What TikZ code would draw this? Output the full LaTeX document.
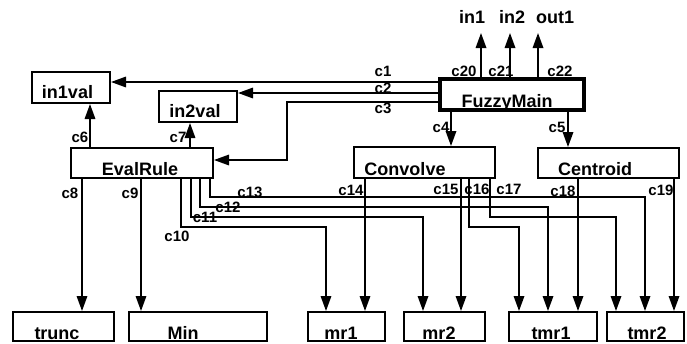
\documentclass[tikz,border=0pt]{standalone}
\usepackage{fontspec}
\setmainfont{Liberation Sans}
\usetikzlibrary{arrows.meta}
\begin{document}
\begin{tikzpicture}[x=1pt,y=-1pt,
  box/.style={draw, line width=2pt, inner sep=0pt, fill=white},
  mainbox/.style={box, line width=3.8pt},
  boxname/.style={anchor=base, inner sep=0pt, font=\fontsize{18}{20}\selectfont\bfseries},
  lab/.style={inner sep=0pt, font=\fontsize{15}{16}\selectfont\bfseries},
  port/.style={anchor=base, inner sep=0pt, font=\fontsize{18}{20}\selectfont\bfseries},
  conn/.style={line width=1.7pt, -{Triangle[length=15pt,width=10.5pt]}}]
\useasboundingbox (0,0) rectangle (687,343);

% boxes
\node[box, minimum width=78pt, minimum height=31pt] (in1val) at (71,87.5) {};
\node[box, minimum width=78pt, minimum height=31pt] (in2val) at (198,106.5) {};
\node[box, minimum width=142pt, minimum height=30pt] (eval) at (142,163) {};
\node[mainbox, minimum width=144pt, minimum height=31pt] (fm) at (512,94.5) {};
\node[box, minimum width=141pt, minimum height=31pt] (conv) at (424.5,162.5) {};
\node[box, minimum width=141pt, minimum height=30pt] (cent) at (608.5,163) {};
\node[box, minimum width=101pt, minimum height=29pt] (trunc) at (63.5,326.5) {};
\node[box, minimum width=138pt, minimum height=29pt] (min) at (198,326.5) {};
\node[box, minimum width=77pt, minimum height=29pt] (mr1) at (346.5,326.5) {};
\node[box, minimum width=81pt, minimum height=29pt] (mr2) at (444.5,326.5) {};
\node[box, minimum width=88pt, minimum height=29pt] (tmr1) at (553,326.5) {};
\node[box, minimum width=77pt, minimum height=29pt] (tmr2) at (645.5,326.5) {};

% box names
\node[boxname] (in1val-t) at (67.5,98) {in1val};
\node[boxname] (in2val-t) at (195,117) {in2val};
\node[boxname] (eval-t) at (140,175) {EvalRule};
\node[boxname] (fm-t) at (507,107) {FuzzyMain};
\node[boxname] (conv-t) at (405,175) {Convolve};
\node[boxname] (cent-t) at (595,175) {Centroid};
\node[boxname] (trunc-t) at (57,339) {trunc};
\node[boxname] (min-t) at (183,339) {Min};
\node[boxname] (mr1-t) at (341,339) {mr1};
\node[boxname] (mr2-t) at (439,339) {mr2};
\node[boxname] (tmr1-t) at (551,339) {tmr1};
\node[boxname] (tmr2-t) at (647,339) {tmr2};

% ports
\coordinate (p1) at (481,33);
\coordinate (p2) at (510,33);
\coordinate (p3) at (538,33);
\node[port] (in1) at (472,23) {in1};
\node[port] (in2) at (512,23) {in2};
\node[port] (out1) at (555,23) {out1};

% connectors
\draw[conn] (fm.west |- 0,82) -- (in1val.east |- 0,82);
\draw[conn] (fm.west |- 0,93) -- (in2val.east |- 0,93);
\draw[conn] (fm.west |- 0,102) -- (287,102) -- (287,160) -- (eval.east |- 0,160);
\draw[conn] (fm.south -| 451,0) -- (conv.north -| 451,0);
\draw[conn] (fm.south -| 568,0) -- (cent.north -| 568,0);
\draw[conn] (eval.north -| 90,0) -- (in1val.south -| 90,0);
\draw[conn] (eval.north -| 190,0) -- (in2val.south -| 190,0);
\draw[conn] (eval.south -| 82,0) -- (trunc.north -| 82,0);
\draw[conn] (eval.south -| 141,0) -- (min.north -| 141,0);
\draw[conn] (eval.south -| 181,0) -- (181,227) -- (326,227) -- (mr1.north -| 326,0);
\draw[conn] (eval.south -| 191,0) -- (191,217) -- (423,217) -- (mr2.north -| 423,0);
\draw[conn] (eval.south -| 200,0) -- (200,207) -- (548,207) -- (tmr1.north -| 548,0);
\draw[conn] (eval.south -| 210,0) -- (210,197) -- (645,197) -- (tmr2.north -| 645,0);
\draw[conn] (conv.south -| 365,0) -- (mr1.north -| 365,0);
\draw[conn] (conv.south -| 461,0) -- (mr2.north -| 461,0);
\draw[conn] (conv.south -| 469,0) -- (469,227) -- (519,227) -- (tmr1.north -| 519,0);
\draw[conn] (conv.south -| 490,0) -- (490,217) -- (616,217) -- (tmr2.north -| 616,0);
\draw[conn] (cent.south -| 578,0) -- (tmr1.north -| 578,0);
\draw[conn] (cent.south -| 674,0) -- (tmr2.north -| 674,0);
\draw[conn] (fm.north -| p1) -- (p1);
\draw[conn] (fm.north -| p2) -- (p2);
\draw[conn] (fm.north -| p3) -- (p3);

% connector labels
\node[lab] (l1) at (383,71) {c1};
\node[lab] (l2) at (383,88) {c2};
\node[lab] (l3) at (383,108) {c3};
\node[lab] (l4) at (441,127) {c4};
\node[lab] (l5) at (557,127) {c5};
\node[lab] (l6) at (80,137) {c6};
\node[lab] (l7) at (178,137) {c7};
\node[lab] (l8) at (70,193) {c8};
\node[lab] (l9) at (130,193) {c9};
\node[lab] (l10) at (177,236) {c10};
\node[lab] (l11) at (205,217) {c11};
\node[lab] (l12) at (228,207) {c12};
\node[lab] (l13) at (250,192) {c13};
\node[lab] (l14) at (351,190) {c14};
\node[lab] (l15) at (446,189) {c15};
\node[lab] (l16) at (477,189) {c16};
\node[lab] (l17) at (509,189) {c17};
\node[lab] (l18) at (563,191) {c18};
\node[lab] (l19) at (661,190) {c19};
\node[lab] (l20) at (464,71) {c20};
\node[lab] (l21) at (501,71) {c21};
\node[lab] (l22) at (560,71) {c22};
\end{tikzpicture}
\end{document}
